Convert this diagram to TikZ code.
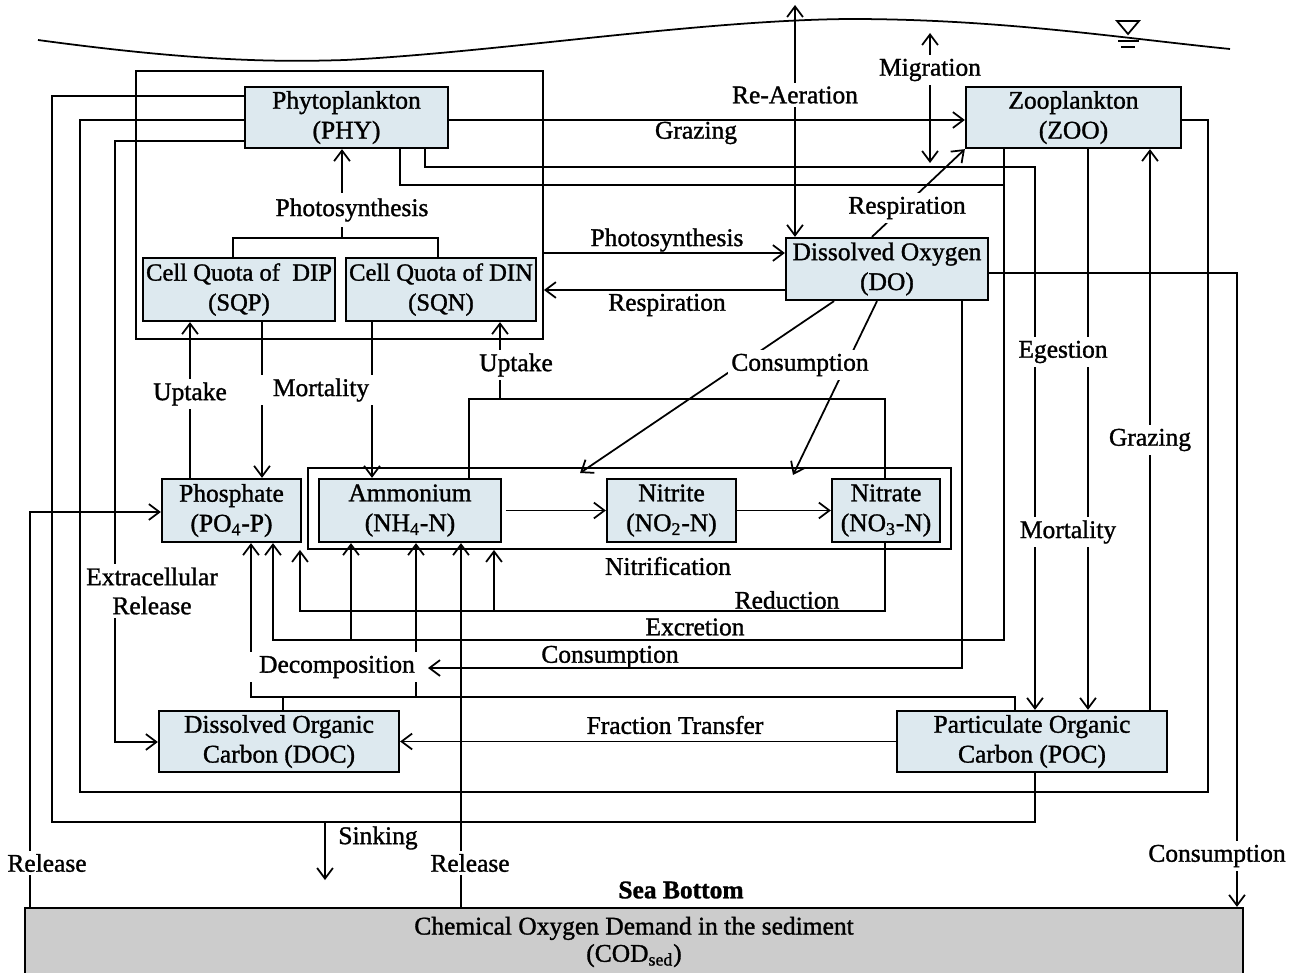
\documentclass[tikz,border=0pt]{standalone}
\usepackage{fontspec}
\setmainfont{Liberation Serif}[FakeBold=1.2]
\usetikzlibrary{arrows.meta}
\definecolor{boxfill}{RGB}{221,233,239}
\definecolor{codfill}{RGB}{204,204,204}
\begin{document}
\begin{tikzpicture}[x=0.02cm,y=-0.02cm, line width=1pt,
  every node/.style={font=\fontsize{14.5}{17}\selectfont},
  box/.style={draw, line width=1.3pt, fill=boxfill, align=center, inner sep=0pt},
  grpbox/.style={draw, line width=1.1pt, inner sep=0pt},
  arr/.style={-{Straight Barb[length=6pt,width=9pt]}},
  arrb/.style={{Straight Barb[length=6pt,width=9pt]}-{Straight Barb[length=6pt,width=9pt]}},
  lbl/.style={inner sep=1pt, align=center},
  lblw/.style={lbl, fill=white, inner sep=2pt}]
\useasboundingbox (0,0) rectangle (1298,973);

% water surface
\draw (38,40) .. controls (200,62) and (280,62) .. (345,60)
      .. controls (500,52) and (700,20) .. (850,19)
      .. controls (1000,19) and (1120,38) .. (1230,49);
\draw (1117,21) -- (1139,21) -- (1128,34) -- cycle;
\draw (1118,41) -- (1139,41);
\draw (1121,47) -- (1135,47);

% group boxes
\node[grpbox, minimum width=8.14cm, minimum height=5.36cm] (grp) at (339.5,205) {};
\node[grpbox, minimum width=12.86cm, minimum height=1.62cm] (nit) at (629.5,508.5) {};

% boxes
\node[box, minimum width=4.06cm, minimum height=1.22cm] (phy) at (346.5,117.5) {Phytoplankton\\(PHY)};
\node[box, minimum width=4.3cm, minimum height=1.22cm] (zoo) at (1073.5,117.5) {Zooplankton\\(ZOO)};
\node[box, minimum width=3.84cm, minimum height=1.26cm, font=\fontsize{14}{17}\selectfont] (sqp) at (239,289.5) {Cell Quota of\ \ DIP\\(SQP)};
\node[box, minimum width=3.8cm, minimum height=1.26cm, font=\fontsize{14}{17}\selectfont] (sqn) at (441,289.5) {Cell Quota of DIN\\(SQN)};
\node[box, minimum width=4.04cm, minimum height=1.24cm] (do) at (887,269) {Dissolved Oxygen\\(DO)};
\node[box, minimum width=2.78cm, minimum height=1.26cm] (po4) at (231.5,510.5) {Phosphate\\(PO\textsubscript{4}-P)};
\node[box, minimum width=3.64cm, minimum height=1.26cm] (nh4) at (410,510.5) {Ammonium\\(NH\textsubscript{4}-N)};
\node[box, minimum width=2.58cm, minimum height=1.26cm] (no2) at (671.5,510.5) {Nitrite\\(NO\textsubscript{2}-N)};
\node[box, minimum width=2.16cm, minimum height=1.26cm] (no3) at (886,510.5) {Nitrate\\(NO\textsubscript{3}-N)};
\node[box, minimum width=4.8cm, minimum height=1.22cm] (doc) at (279,741.5) {Dissolved Organic\\Carbon (DOC)};
\node[box, minimum width=5.4cm, minimum height=1.22cm] (poc) at (1032,741.5) {Particulate Organic\\Carbon (POC)};
\node[box, fill=codfill, minimum width=24.36cm, minimum height=1.64cm, text depth=0pt] (cod) at (634,949) {};
\node[lbl, font=\fontsize{14.5}{15.5}\selectfont] (codtxt) at (634,942) {Chemical Oxygen Demand in the sediment\\(COD\textsubscript{sed})};

% free ends
\coordinate (airtop) at (795,5);
\coordinate (migtop) at (930,33);
\coordinate (migbot) at (930,163);
\coordinate (sink) at (325,880);

% connectors
\draw[arrb] (airtop) -- (795,0 |- do.north);
\draw[arrb] (migtop) -- (migbot);
\draw[arr] (phy.east |- 0,120) -- (zoo.west |- 0,120);
\draw[arr] (872,0 |- do.north) -- (zoo.south west);
\draw[arr] (grp.east |- 0,253) -- (do.west |- 0,253);
\draw[arr] (do.west |- 0,290) -- (grp.east |- 0,290);
\draw (233,0 |- sqp.north) -- (233,238) -- (438,238) -- (438,0 |- sqn.north);
\draw (342,238) -- (342,227);
\draw[arr] (342,193) -- (342,0 |- phy.south);

\draw (phy.west |- 0,96) -| (52,822) -| (1035,0 |- poc.south);
\draw[arr] (325,822) -- (sink);
\draw (phy.west |- 0,120) -| (80,792) -| (1208,120) -- (zoo.east |- 0,120);
\draw[arr] (phy.west |- 0,141) -| (115,742) -- (doc.west |- 0,742);

\draw[arr] (phy.south -| 425,0) |- (1035,167) -- (1035,0 |- poc.north);
\draw (phy.south -| 400,0) |- (1004,185);
\draw[arr] (zoo.south -| 1004,0) |- (273,640) -- (273,0 |- po4.south);
\draw[arr] (351,640) -- (351,0 |- nh4.south);
\draw[arr] (zoo.south -| 1088,0) -- (1088,0 |- poc.north);
\draw[arr] (1150,0 |- poc.north) -- (1150,0 |- zoo.south);
\draw[arr] (do.east |- 0,273) -| (1237,0 |- cod.north);

\draw[arr] (190,0 |- po4.north) -- (190,0 |- sqp.south);
\draw[arr] (262,0 |- sqp.south) -- (262,0 |- po4.north);
\draw[arr] (372,0 |- sqn.south) -- (372,0 |- nh4.north);
\draw (469,0 |- nh4.north) |- (885,399) -- (885,0 |- no3.north);
\draw[arr] (500,399) -- (500,0 |- sqn.south);
\draw[arr] ([xshift=2pt]nh4.east) -- (no2.west);
\draw[arr] (no2.east) -- (no3.west);
\draw[arr] (834,0 |- do.south) -- (580,473);
\draw[arr] (877,0 |- do.south) -- (793,475);
\draw[arr] (962,0 |- do.south) |- (428,668);
\draw[arr] (885,0 |- no3.south) |- (300,611) -- (300,0 |- nit.south);
\draw[arr] (494,611) -- (494,0 |- nit.south);
\draw[arr] (1015,0 |- poc.north) |- (251,697) -- (251,0 |- po4.south);
\draw[arr] (416,697) -- (416,0 |- nh4.south);
\draw (283,0 |- doc.north) -- (283,697);
\draw[arr] (461,0 |- cod.north) -- (461,0 |- nh4.south);
\draw[arr] (30,0 |- cod.north) |- (po4.west |- 0,512);
\draw[arr] (poc.west) -- (doc.east);

% labels
\node[lblw] (l1) at (795,95) {Re-Aeration};
\node[lblw] (l2) at (930,70) {Migration};
\node[lbl] (l3) at (696,133) {Grazing};
\node[lblw] (l4) at (352,210) {Photosynthesis};
\node[lblw] (l5) at (907,208) {Respiration};
\node[lbl] (l6) at (667,240) {Photosynthesis};
\node[lbl] (l7) at (667,305) {Respiration};
\node[lblw] (l8) at (516,365) {Uptake};
\node[lblw] (l9) at (800,365) {Consumption};
\node[lblw] (l10) at (1063,352) {Egestion};
\node[lblw] (l11) at (190,394) {Uptake};
\node[lblw, inner xsep=8pt] (l12) at (321,390) {Mortality};
\node[lblw] (l13) at (1150,440) {Grazing};
\node[lblw] (l14) at (1068,532) {Mortality};
\node[lbl] (l15) at (668,566) {Nitrification};
\node[lblw, inner xsep=1pt, font=\fontsize{14.5}{17}\selectfont] (l16) at (152,591) {Extracellular\\[-0.5pt]Release};
\node[lbl] (l17) at (787,600) {Reduction};
\node[lbl] (l18) at (695,627) {Excretion};
\node[lbl] (l19) at (610,657) {Consumption};
\node[lblw, inner xsep=7pt] (l20) at (337,667) {Decomposition};
\node[lbl] (l21) at (675,725) {Fraction Transfer};
\node[lbl] (l22) at (378,838) {Sinking};
\node[lblw] (l23) at (47,863) {Release};
\node[lblw] (l24) at (470,863) {Release};
\node[lblw] (l25) at (1217,856) {Consumption};
\node[lbl, font=\fontsize{14.5}{17}\selectfont\bfseries] (l26) at (681,890) {Sea Bottom};
\end{tikzpicture}
\end{document}
